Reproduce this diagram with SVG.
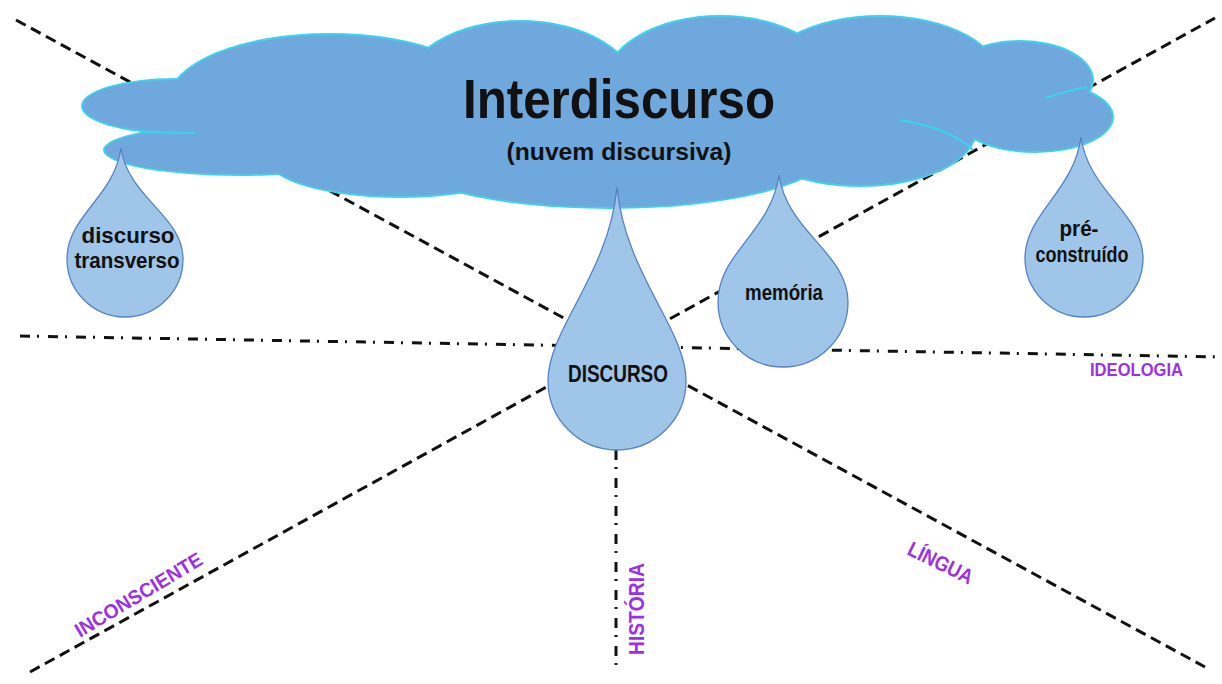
<svg xmlns="http://www.w3.org/2000/svg" width="1222" height="684" viewBox="0 0 1222 684">
<style>
.dash{stroke:#111;stroke-width:3;fill:none;stroke-dasharray:11 6}
.dd{stroke:#111;stroke-width:3;fill:none;stroke-dasharray:10 7 2 9}
.cloudOut ellipse{fill:#3fd2ef}
.cloudIn ellipse{fill:#6fa8dc}
.inner{fill:none;stroke:#3fd2ef;stroke-width:2}
.drop{fill:#9fc5e8;stroke:#5682c2;stroke-width:1.3}
.t{font-family:"Liberation Sans",Arial,sans-serif;font-weight:bold;fill:#111;text-anchor:middle}
.lbl{font-family:"Liberation Sans",Arial,sans-serif;font-weight:bold;fill:#9b30e8}
</style>
<rect width="1222" height="684" fill="#fff"/>
<g id="connectors">
<line class="dash" x1="16" y1="20" x2="1205" y2="667"/>
<line class="dash" x1="30" y1="672" x2="1215" y2="18"/>
<line class="dd" x1="20" y1="336" x2="1222" y2="357"/>
<line class="dd" x1="616" y1="450" x2="616" y2="665"/>
</g>
<g id="cloud">
<g class="cloudOut">
<ellipse cx="175" cy="106" rx="94" ry="28"/>
<ellipse cx="240" cy="150" rx="137" ry="26"/>
<ellipse cx="330" cy="100" rx="162" ry="67"/>
<ellipse cx="520" cy="90" rx="117" ry="70"/>
<ellipse cx="720" cy="85" rx="117" ry="70"/>
<ellipse cx="880" cy="80" rx="122" ry="65"/>
<ellipse cx="1020" cy="80" rx="74" ry="40"/>
<ellipse cx="1035" cy="117" rx="79" ry="36"/>
<ellipse cx="860" cy="130" rx="117" ry="57"/>
<ellipse cx="610" cy="150" rx="222" ry="59"/>
<ellipse cx="400" cy="160" rx="132" ry="38"/>
</g>
<g class="cloudIn">
<ellipse cx="175" cy="106" rx="92" ry="26"/>
<ellipse cx="240" cy="150" rx="135" ry="24"/>
<ellipse cx="330" cy="100" rx="160" ry="65"/>
<ellipse cx="520" cy="90" rx="115" ry="68"/>
<ellipse cx="720" cy="85" rx="115" ry="68"/>
<ellipse cx="880" cy="80" rx="120" ry="63"/>
<ellipse cx="1020" cy="80" rx="72" ry="38"/>
<ellipse cx="1035" cy="117" rx="77" ry="34"/>
<ellipse cx="860" cy="130" rx="115" ry="55"/>
<ellipse cx="610" cy="150" rx="220" ry="57"/>
<ellipse cx="400" cy="160" rx="130" ry="36"/>
</g>
<path class="inner" d="M900,120 Q950,128 973,150"/>
<path class="inner" d="M1045,98 Q1070,90 1087,87"/>
<path class="inner" d="M140,132 L195,133"/>
<text class="t" x="619" y="118" font-size="56" textLength="312" lengthAdjust="spacingAndGlyphs">Interdiscurso</text>
<text class="t" x="619" y="160" font-size="24" textLength="225" lengthAdjust="spacingAndGlyphs">(nuvem discursiva)</text>
</g>
<g id="drop-transverso">
<path class="drop" d="M121,148 C128,198 183,215.5 183,259 A58,58 0 0 1 67,259 C67,215.5 114,198 121,148 Z"/>
<text class="t" x="128" y="243" font-size="22" textLength="93" lengthAdjust="spacingAndGlyphs">discurso</text>
<text class="t" x="127" y="268" font-size="22" textLength="105" lengthAdjust="spacingAndGlyphs">transverso</text>
</g>
<g id="drop-discurso">
<path class="drop" d="M617,187 C625,274 686,329 686,381 A69,69 0 0 1 548,381 C548,329 609,274 617,187 Z"/>
<text class="t" x="618" y="382" font-size="23" textLength="100" lengthAdjust="spacingAndGlyphs">DISCURSO</text>
</g>
<g id="drop-memoria">
<path class="drop" d="M779,175 C787,232 848,253 848,302 A65,65 0 0 1 718,302 C718,253 771,232 779,175 Z"/>
<text class="t" x="784" y="300" font-size="22" textLength="78" lengthAdjust="spacingAndGlyphs">memória</text>
</g>
<g id="drop-preconstruido">
<path class="drop" d="M1081,137 C1088,191 1143,214 1143,258 A59,59 0 0 1 1025,258 C1025,214 1074,191 1081,137 Z"/>
<text class="t" x="1079" y="236" font-size="22" textLength="39" lengthAdjust="spacingAndGlyphs">pré-</text>
<text class="t" x="1082" y="262" font-size="22" textLength="93" lengthAdjust="spacingAndGlyphs">construído</text>
</g>
<g id="labels">
<text class="lbl" x="1090" y="376" font-size="19" textLength="93" lengthAdjust="spacingAndGlyphs">IDEOLOGIA</text>
<text class="lbl" x="80" y="638" font-size="20" textLength="145" lengthAdjust="spacingAndGlyphs" transform="rotate(-31 80 638)">INCONSCIENTE</text>
<text class="lbl" x="644" y="655" font-size="22" textLength="92" lengthAdjust="spacingAndGlyphs" transform="rotate(-90 644 655)">HISTÓRIA</text>
<text class="lbl" x="906" y="554" font-size="21" textLength="70" lengthAdjust="spacingAndGlyphs" transform="rotate(26 906 554)">LÍNGUA</text>
</g>
</svg>
